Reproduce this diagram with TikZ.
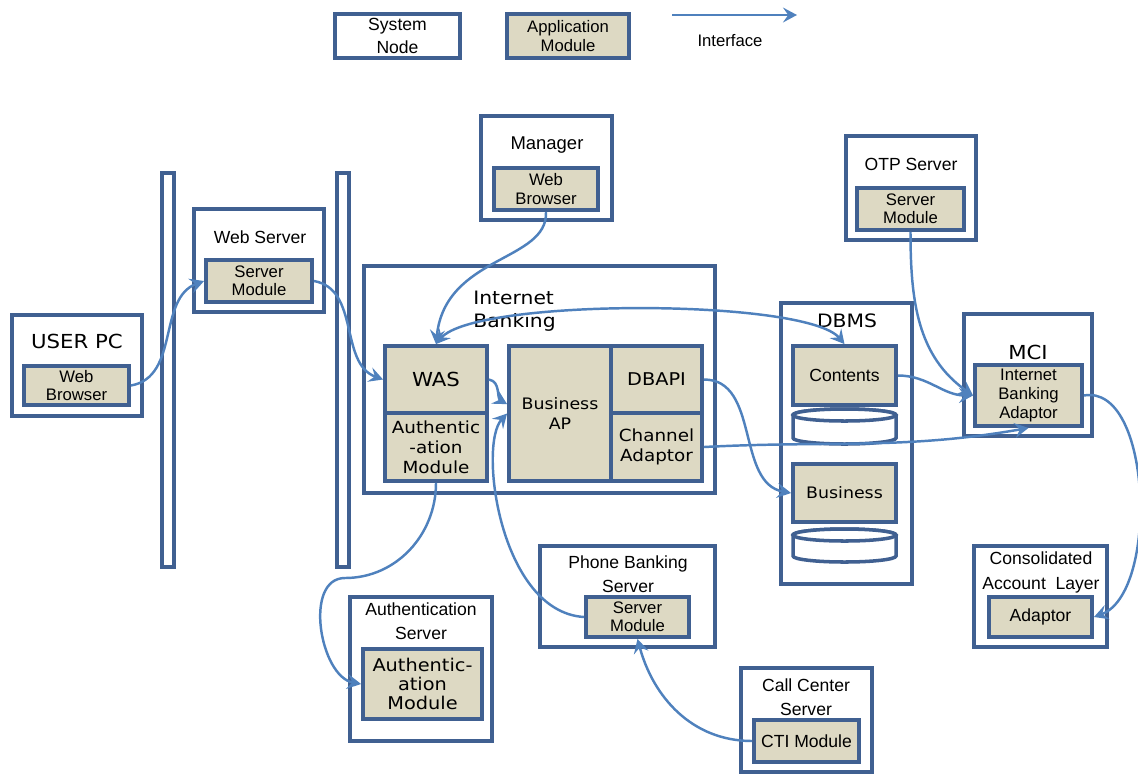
\documentclass[tikz,border=0pt]{standalone}
\usepackage{fontspec}
\setmainfont{Liberation Sans}
\newfontfamily\widefont[FakeStretch=1.1]{DejaVu Sans}
\usetikzlibrary{arrows.meta,positioning}
\definecolor{framebl}{RGB}{64,96,145}
\definecolor{linkbl}{RGB}{79,129,189}
\definecolor{modfill}{RGB}{221,217,195}
\tikzstyle{every node}=[inner sep=0pt, align=center, font=\fontsize{10}{13.5}\selectfont]

\begin{document}
\begin{tikzpicture}[
        x=0.02cm, y=0.02cm,
        >={Stealth[length=8pt,width=8.5pt,inset=3pt]},
        sysnode/.style={
                draw=framebl,
                line width=2.2pt,
                fill=white
            },
        appmod/.style={
                draw=framebl,
                line width=2.2pt,
                fill=modfill,
                font=\fontsize{9.5}{10.5}\selectfont
            },
        wall/.style={
                draw=framebl,
                line width=2pt,
                minimum width=0.24cm,
                minimum height=7.88cm
            },
        diskline/.style={
                draw=framebl,
                line width=2pt,
                fill=white
            },
        big/.style={font=\widefont\fontsize{10.5}{13}\selectfont},
        mid/.style={font=\widefont\fontsize{9.5}{11.3}\selectfont},
        iface/.style={draw=linkbl, line width=1.4pt, ->}
    ]
    \useasboundingbox (0,0) rectangle (1138,-775);

    % Legend
    \node[sysnode, minimum width=2.5cm, minimum height=0.88cm] (lgsys) at (397.5,-36) {System\\Node};
    \node[appmod, minimum width=2.44cm, minimum height=0.88cm] (lgapp) at (568,-36) {Application\\Module};
    \coordinate (lgA) at (672,-15);
    \coordinate (lgB) at (797,-15);
    \node[font=\fontsize{9.5}{11}\selectfont] (lgtxt) at (730,-41) {Interface};

    % Firewalls
    \node[wall] (wall1) at (168,-370) {};
    \node[wall] (wall2) at (343,-370) {};

    % User side
    \node[sysnode, minimum width=2.6cm, minimum height=2.02cm] (userpc) at (77,-365.5) {};
    \node[font=\widefont\fontsize{11}{13}\selectfont] (userpct) at (77,-341) {USER PC};
    \node[appmod, minimum width=2.1cm, minimum height=0.78cm] (ubrowser) at (76.5,-385.5) {Web\\Browser};

    \node[sysnode, minimum width=2.6cm, minimum height=2.06cm] (websrv) at (259,-260.5) {};
    \node (websrvt) at (260,-237) {Web Server};
    \node[appmod, minimum width=2.12cm, minimum height=0.84cm] (wsmod) at (259,-281) {Server\\Module};

    \node[sysnode, minimum width=2.62cm, minimum height=2.08cm] (manager) at (546.5,-168) {};
    \node[font=\fontsize{10.5}{13}\selectfont] (managert) at (547,-145) {Manager};
    \node[appmod, minimum width=2.08cm, minimum height=0.84cm] (mgrbrowser) at (546,-189) {Web\\Browser};

    % Internet Banking
    \node[sysnode, minimum width=7.02cm, minimum height=4.54cm] (ibank) at (539.5,-379.5) {};
    \node[big, anchor=west, align=left] (ibankt) at (473,-311.5) {Internet\\Banking};
    \node[appmod, font=\widefont\fontsize{11}{13}\selectfont, minimum width=2.04cm, minimum height=1.34cm] (was) at (436,-379.5) {WAS};
    \node[appmod, mid, minimum width=2.04cm, minimum height=1.36cm] (authmod) at (436,-447) {Authentic\\-ation\\Module};
    \node[appmod, font=\widefont\fontsize{9}{11.3}\selectfont, minimum width=2.04cm, minimum height=2.7cm] (bap) at (560,-413.5) {Business\\AP};
    \node[appmod, font=\widefont\fontsize{10}{12}\selectfont, minimum width=1.82cm, minimum height=1.34cm] (dbapi) at (656.5,-379.5) {DBAPI};
    \node[appmod, mid, minimum width=1.82cm, minimum height=1.36cm] (chanad) at (656.5,-447) {Channel\\Adaptor};

    % DBMS
    \node[sysnode, minimum width=2.62cm, minimum height=5.62cm] (dbms) at (846.5,-443.5) {};
    \node[big] (dbmst) at (847,-321) {DBMS};
    \node[appmod, font=\fontsize{10}{12}\selectfont, minimum width=2.06cm, minimum height=1.18cm] (contents) at (844.5,-375.5) {Contents};
    \node[appmod, font=\widefont\fontsize{9}{11}\selectfont, minimum width=2.06cm, minimum height=1.16cm] (business) at (844.5,-493) {Business};
    \foreach \ytop/\ybot in {415/438, 535/556}{
            \filldraw[diskline] (793,-\ytop) -- (793,-\ybot) arc[start angle=180, end angle=360, x radius=51.5, y radius=6]
                -- (896,-\ytop) arc[start angle=0, end angle=180, x radius=51.5, y radius=6] -- cycle;
            \draw[diskline] (844.5,-\ytop) ellipse[x radius=51.5, y radius=6];
        }

    % OTP, MCI, Consolidated Account Layer
    \node[sysnode, minimum width=2.6cm, minimum height=2.08cm] (otp) at (911,-188) {};
    \node (otpt) at (911,-164) {OTP Server};
    \node[appmod, minimum width=2.14cm, minimum height=0.84cm] (otpmod) at (910.5,-209) {Server\\Module};

    \node[sysnode, minimum width=2.56cm, minimum height=2.44cm] (mci) at (1028,-375) {};
    \node[font=\widefont\fontsize{11}{13}\selectfont] (mcit) at (1028,-352) {MCI};
    \node[appmod, font=\fontsize{9.5}{11}\selectfont, minimum width=2.14cm, minimum height=1.22cm] (ibadapt) at (1028.5,-395.5) {Internet\\Banking\\Adaptor};

    \node[sysnode, minimum width=2.66cm, minimum height=2.02cm] (consol) at (1040.5,-596.5) {};
    \node[font=\fontsize{10}{14}\selectfont] (consolt) at (1041,-572.5) {Consolidated\\Account\ \ Layer};
    \node[appmod, font=\fontsize{10}{12}\selectfont, minimum width=2.06cm, minimum height=0.8cm] (cadapt) at (1040.5,-617) {Adaptor};

    % Lower servers
    \node[sysnode, minimum width=2.84cm, minimum height=2.88cm] (authsrv) at (421,-669) {};
    \node (authsrvt) at (421,-621) {Authentication\\Server};
    \node[appmod, font=\widefont\fontsize{10}{11}\selectfont, minimum width=2.38cm, minimum height=1.4cm] (asmod) at (422.5,-684) {Authentic-\\ation\\Module};

    \node[sysnode, minimum width=3.5cm, minimum height=2.02cm] (phonesrv) at (627.5,-596.5) {};
    \node (phonesrvt) at (628,-574) {Phone Banking\\Server};
    \node[appmod, minimum width=2.06cm, minimum height=0.8cm] (pbmod) at (637.5,-617) {Server\\Module};

    \node[sysnode, minimum width=2.62cm, minimum height=2.08cm] (callctr) at (806.5,-720) {};
    \node (callctrt) at (806,-697) {Call Center\\Server};
    \node[appmod, font=\fontsize{10}{12}\selectfont, minimum width=2.1cm, minimum height=0.84cm] (cti) at (806.5,-741) {CTI Module};

    % Interfaces
    \draw[iface] (lgA) -- (lgB);
    \draw[iface] (ubrowser.east) to[out=10,in=200] (wsmod.west);
    \draw[iface] (wsmod.east) to[out=-10,in=160] (was.west);
    \draw[iface] (mgrbrowser.south) .. controls (548,-262) and (445,-255) .. (was.north);
    \draw[iface, <->] (was.north) to[out=50,in=130,distance=1.2cm] (contents.north);
    \draw[iface] (was.east) to[out=-10,in=150] (bap.170);
    \draw[iface] (pbmod.west) .. controls (500,-612) and (478,-445) .. (bap.west);
    \draw[iface] (authmod.south) to[out=-90,in=0] (345,-578) to[out=180,in=170] (asmod.west);
    \draw[iface] (cti.west) to[out=180,in=-75] (pbmod.south);
    \draw[iface] (dbapi.east) to[out=0,in=170] (business.west);
    \draw[iface] (chanad.east) to[out=3,in=190] (ibadapt.south);
    \draw[iface] (contents.east) to[out=0,in=180] (ibadapt.west);
    \draw[iface] (otpmod.south) to[out=-90,in=145] (ibadapt.west);
    \draw[iface] (ibadapt.east) to[out=10,in=20,looseness=0.8] (cadapt.east);
\end{tikzpicture}
\end{document}
